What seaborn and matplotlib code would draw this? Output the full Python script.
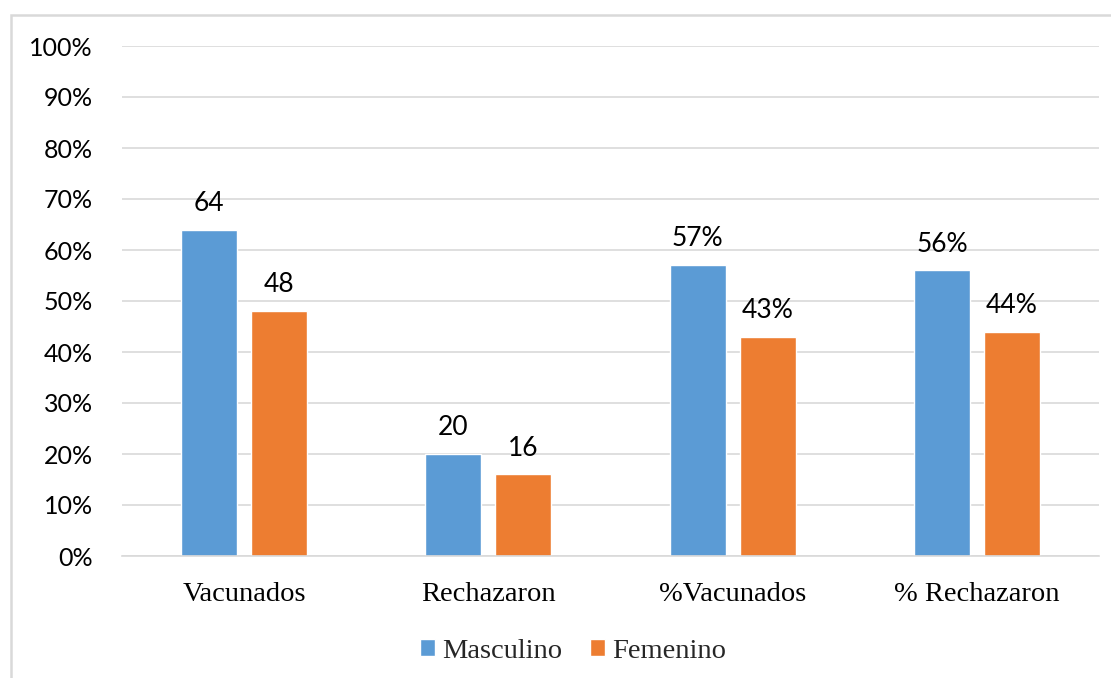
import matplotlib
matplotlib.use("Agg")
import matplotlib.pyplot as plt
import matplotlib.patches as mpatches
from matplotlib.ticker import FixedLocator, FuncFormatter
import seaborn as sns
import pandas as pd

# Chart data
categorias = ["Vacunados", "Rechazaron", "%Vacunados", "% Rechazaron"]
masculino = [64, 20, 57, 56]
femenino = [48, 16, 43, 44]
series = ["Masculino", "Femenino"]
# labels on the first two groups are counts, the last two are percentages
es_porcentaje = [False, False, True, True]
y_ticks = [0, 10, 20, 30, 40, 50, 60, 70, 80, 90, 100]

AZUL = "#5B9BD5"
NARANJA = "#ED7D31"
GRIS = "#D9D9D9"

df = pd.DataFrame({
    "categoria": categorias * 2,
    "valor": [v / 100 for v in masculino + femenino],
    "sexo": [series[0]] * len(categorias) + [series[1]] * len(categorias),
})

sns.set_theme(style="white")
plt.rcParams["font.family"] = ["Lato", "DejaVu Sans"]

fig = plt.figure(figsize=(11.11, 6.78), dpi=100)
ax = fig.add_axes([122 / 1111, 1 - 556 / 678, (1099 - 122) / 1111, (556 - 46) / 678])

sns.barplot(data=df, x="categoria", y="valor", hue="sexo",
            palette=[AZUL, NARANJA], saturation=1, width=0.573, gap=0.2,
            ax=ax, legend=True)

ax.set_xlim(-0.5, len(categorias) - 0.5)
ax.set_ylim(0, 1.0)
ax.yaxis.set_major_locator(FixedLocator([t / 100 for t in y_ticks]))
ax.yaxis.set_major_formatter(FuncFormatter(lambda v, _: f"{v * 100:.0f}%"))
ax.grid(axis="y", color=GRIS, linewidth=1.2)
ax.set_axisbelow(True)
for s in ["left", "right", "top"]:
    ax.spines[s].set_visible(False)
ax.spines["bottom"].set_color(GRIS)
ax.spines["bottom"].set_linewidth(1.2)
ax.set_xlabel("")
ax.set_ylabel("")
ax.tick_params(axis="y", length=0, pad=21, labelsize=18, labelcolor="#000000")
ax.tick_params(axis="x", length=0, pad=19, labelcolor="#000000")
for lbl in ax.get_xticklabels():
    lbl.set_fontfamily(["Liberation Serif", "DejaVu Serif"])
    lbl.set_fontsize(20.5)

# value labels over every bar
for cont, valores in zip(ax.containers, [masculino, femenino]):
    etiquetas = [f"{v}%" if p else f"{v}" for v, p in zip(valores, es_porcentaje)]
    ax.bar_label(cont, labels=etiquetas, padding=10, fontsize=19, color="#000000")

handles, labels = ax.get_legend_handles_labels()
ax.legend(handles, labels, loc="center",
          bbox_to_anchor=(573 / 1111, 1 - 651 / 678), bbox_transform=fig.transFigure,
          ncol=2, frameon=False, handlelength=0.53, handleheight=0.53,
          handletextpad=0.22, columnspacing=1.0,
          prop={"family": ["Liberation Serif", "DejaVu Serif"], "size": 20.5})

# outer chart border (top and left edges visible)
fig.patches.append(mpatches.Rectangle((11 / 1111, -0.1), 1.2, 1 - 15 / 678 + 0.1,
                                      transform=fig.transFigure, fill=False,
                                      edgecolor=GRIS, linewidth=1.8))

fig.savefig("out.png", dpi=100)
